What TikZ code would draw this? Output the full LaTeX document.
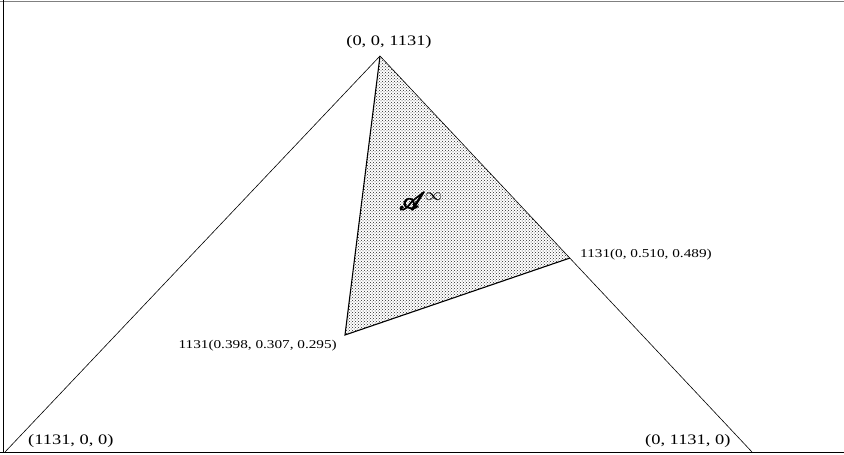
\documentclass[tikz,border=0pt]{standalone}
\usepackage{amsmath}
\usepackage{mathrsfs}
\usepackage{fontspec}
\setmainfont{Liberation Serif}
\newfontfamily\labfont[FakeStretch=1.27]{Liberation Serif}
\usetikzlibrary{patterns}
\newcommand{\fakebold}[1]{\special{pdf:code q 2 Tr 1.1 w}#1\special{pdf:code Q}}

\begin{document}
\begin{tikzpicture}[
  x=1pt, y=-1pt,
  frame/.style={line width=1pt},
  edge/.style={draw=black, line width=0.6pt},
  inner/.style={draw=black, line width=1.1pt},
  vlab/.style={inner sep=0pt, font=\labfont\fontsize{14.5}{15}\selectfont},
  plab/.style={inner sep=0pt, font=\labfont\fontsize{12}{13}\selectfont},
]
\useasboundingbox (0,0) rectangle (844,455);

% ---- frame ----
\draw[frame, draw=gray] (0,1) -- (844,1);
\draw[frame] (3,0) -- (3,452);
\draw[frame] (0,452) -- (844,452);

% ---- vertices ----
\coordinate (T) at (380,56);
\coordinate (L) at (5,452);
\coordinate (R) at (752,452);
\coordinate (PR) at (570,258);
\coordinate (PL) at (345,335);

% ---- shaded region ----
\fill[pattern=crosshatch dots, pattern color=black!85] (T) -- (PR) -- (PL) -- cycle;
\draw[inner] (T) -- (PL) -- (PR);

% ---- simplex ----
\draw[edge] (L) -- (T) -- (R);

% ---- labels ----
\node[vlab] (lT) at (389,42) {(0, 0, 1131)};
\node[vlab, anchor=west] (lL) at (28,441) {(1131, 0, 0)};
\node[vlab, anchor=west] (lR) at (645,441) {(0, 1131, 0)};
\node[plab, anchor=west] (lPR) at (580,255) {1131(0, 0.510, 0.489)};
\node[plab, anchor=east] (lPL) at (337,346) {1131(0.398, 0.307, 0.295)};
\node[inner sep=0pt] (lA) at (421,201) {\fontsize{38}{38}\selectfont$\fakebold{\mathscr{A}}^{\scriptscriptstyle\infty}$};

\end{tikzpicture}
\end{document}
